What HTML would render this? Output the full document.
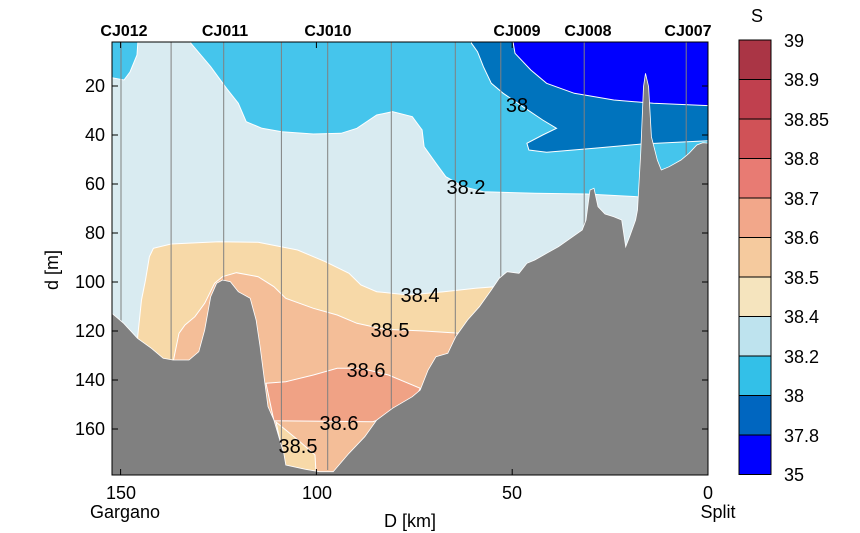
<!DOCTYPE html>
<html><head><meta charset="utf-8"><style>
html,body{margin:0;padding:0;background:#fff;}
svg{display:block;font-family:"Liberation Sans",sans-serif;}
</style></head><body>
<svg width="860" height="533" viewBox="0 0 860 533" xmlns="http://www.w3.org/2000/svg">
<defs><clipPath id="c"><rect x="112" y="42" width="596" height="433"/></clipPath></defs>
<g clip-path="url(#c)">
<rect x="112" y="42" width="596" height="433" fill="#D9EBF1"/>
<polygon points="108,40 138,40 137,55 130,72 124,80 108,77" fill="#45C5EC" stroke="#fff" stroke-width="1"/>
<polygon points="190,40 190.9,43.3 210.7,66.7 226.5,88.3 238.3,103.3 246.2,121.7 262,128.3 281.8,131.7 313.4,134 341.1,133.3 356.9,128.3 376.7,115 392.5,111.7 412.3,116.7 422.1,130 424.1,146.7 436,163.3 445.8,176.7 463.6,186.7 483.4,191.7 534.8,193.3 586.2,194 637.5,196.7 710,198 710,40" fill="#45C5EC" stroke="#fff" stroke-width="1"/>
<polygon points="471.5,40 471.5,43.3 477.5,51.7 483.4,66.7 491.3,83.3 503.2,93.3 522.9,106.7 542.7,120 556.5,128.3 542.7,135 526.9,143.3 528.9,150 546.6,152.3 594.1,148.3 641.5,144 710,140.7 710,40" fill="#0073BD" stroke="#fff" stroke-width="1"/>
<polygon points="513,40 513,41.7 515,53.3 530.8,70 546.6,83.3 574.3,93.3 613.8,100 653.4,103.3 710,105.7 710,40" fill="#0000FF" stroke="#fff" stroke-width="1"/>
<polygon points="137.5,338.3 141.5,300 145.5,280 149.4,256.7 153.4,248.3 171.1,244 218.6,241.7 258.1,242.3 297.6,250 325.3,261.7 349,273.3 360.9,285 376.7,291.7 408.3,295 443.9,291.7 475.5,288.3 495.3,286.7 500,300 470,340 300,470 140,360" fill="#F7D9A8" stroke="#fff" stroke-width="1"/>
<polygon points="173.1,362 179,333.3 185,325 194.9,316.7 204.7,303.3 214.6,283.3 222.5,276.7 236.4,272.7 258.1,276.7 273.9,286.7 285.8,298.3 313.4,308.3 337.2,315 356.9,323.3 384.6,329.3 424.1,331 459.7,333.3 470,340 330,480 260,480 240,362" fill="#F4BE98" stroke="#fff" stroke-width="1"/>
<polygon points="266,383.3 285.8,381.7 313.4,375 337.2,368.3 360.9,368.3 388.5,375 420.2,388.3 410,410 372.7,421.7 273.9,420.7" fill="#F0A285" stroke="#fff" stroke-width="1"/>
<polygon points="276,422 298,440 315,455 316,472 287,472 282,450" fill="#F7D9A8" stroke="#fff" stroke-width="1"/>
<g stroke="#808080" stroke-width="1">
<line x1="121" y1="42" x2="121" y2="475"/><line x1="171.1" y1="42" x2="171.1" y2="475"/>
<line x1="223.7" y1="42" x2="223.7" y2="475"/><line x1="281.4" y1="42" x2="281.4" y2="475"/>
<line x1="327.7" y1="42" x2="327.7" y2="470"/><line x1="391.3" y1="42" x2="391.3" y2="475"/>
<line x1="455.3" y1="42" x2="455.3" y2="475"/><line x1="500.8" y1="42" x2="500.8" y2="475"/>
<line x1="584.2" y1="42" x2="584.2" y2="475"/><line x1="686.2" y1="42" x2="686.2" y2="475"/>
</g>
<polygon fill="#808080" stroke="#fff" stroke-width="0.8" points="108,313.3 111.9,313.3 123.7,323.3 137.5,338.3 151.4,348.3 163.2,358.3 173,360 189,360 198.8,351.7 204.7,330 210.7,296.7 216.6,283.3 222.5,280 230.4,281.7 238.3,291.7 250.2,298.3 256.1,320 260.1,346.7 264,376.7 268,406.7 273.9,420 279.8,440 283.8,453.3 285.8,465 305.5,469.3 319.4,471.7 333.2,471.7 349,453.3 364.8,436.7 376.7,420 392.5,408.3 412.3,396.7 420.2,390 428.1,370 436,356.7 447.8,353.3 455.7,336.7 467.6,320 479.4,306.7 491.3,290 499.2,278.3 507.1,271.7 519,273.3 526.9,263.3 534.8,260 546.6,253.3 558.5,246.7 570.4,238.3 582.2,230 586,220 590,190 594,188.3 598,206.7 605,214 613.8,216.7 621.7,220 625.7,246.7 629.6,236.7 635.6,220 637.5,210 640.7,153.3 643.5,86.7 645.5,73.3 648.6,86.7 651.4,136.7 657.3,160 661.3,170 669.2,166.7 681,160 689,153.3 696.8,145 702.8,142.7 710,143.3 710,480 108,480"/>
</g>
<rect x="112" y="42" width="596" height="433" fill="none" stroke="#000" stroke-width="1"/>
<g stroke="#000" stroke-width="1">
<line x1="112" y1="86" x2="118" y2="86"/><line x1="112" y1="135" x2="118" y2="135"/><line x1="112" y1="184" x2="118" y2="184"/><line x1="112" y1="233" x2="118" y2="233"/><line x1="112" y1="282" x2="118" y2="282"/><line x1="112" y1="331" x2="118" y2="331"/><line x1="112" y1="380" x2="118" y2="380"/><line x1="112" y1="429" x2="118" y2="429"/>
<line x1="708" y1="86" x2="702" y2="86"/><line x1="708" y1="135" x2="702" y2="135"/><line x1="708" y1="184" x2="702" y2="184"/><line x1="708" y1="233" x2="702" y2="233"/><line x1="708" y1="282" x2="702" y2="282"/><line x1="708" y1="331" x2="702" y2="331"/><line x1="708" y1="380" x2="702" y2="380"/><line x1="708" y1="429" x2="702" y2="429"/>
<line x1="120.6" y1="475" x2="120.6" y2="469"/><line x1="316.4" y1="475" x2="316.4" y2="469"/><line x1="512.2" y1="475" x2="512.2" y2="469"/>
<line x1="120.6" y1="42" x2="120.6" y2="48"/><line x1="316.4" y1="42" x2="316.4" y2="48"/><line x1="512.2" y1="42" x2="512.2" y2="48"/>
</g>
<g font-size="18" fill="#000">
<g text-anchor="end">
<text x="105" y="92">20</text><text x="105" y="141">40</text><text x="105" y="190">60</text><text x="105" y="239">80</text><text x="105" y="288">100</text><text x="105" y="337">120</text><text x="105" y="386">140</text><text x="105" y="435">160</text>
</g>
<g text-anchor="middle">
<text x="121" y="499">150</text><text x="317" y="499">100</text><text x="512" y="499">50</text><text x="708" y="499">0</text>
<text x="125" y="518">Gargano</text><text x="718" y="518">Split</text>
<text x="410" y="527">D [km]</text>
</g>
<text transform="translate(58,270) rotate(-90)" text-anchor="middle">d [m]</text>
</g>
<g font-size="20" fill="#000" text-anchor="middle">
<text x="517" y="112">38</text>
<text x="466" y="194">38.2</text>
<text x="420" y="302">38.4</text>
<text x="390" y="337">38.5</text>
<text x="366" y="377">38.6</text>
<text x="339" y="430">38.6</text>
<text x="298" y="453">38.5</text>
</g>
<g font-size="16" font-weight="bold" text-anchor="middle">
<text x="124" y="36">CJ012</text><text x="225" y="36">CJ011</text><text x="328" y="36">CJ010</text>
<text x="517" y="36">CJ009</text><text x="588" y="36">CJ008</text><text x="688" y="36">CJ007</text>
</g>
<g stroke="#000" stroke-width="1">
<rect x="739" y="40" width="32" height="39.5" fill="#AA3545"/>
<rect x="739" y="79.5" width="32" height="39.5" fill="#C0404E"/>
<rect x="739" y="119" width="32" height="39.5" fill="#D05257"/>
<rect x="739" y="158.5" width="32" height="39.5" fill="#E87B73"/>
<rect x="739" y="198" width="32" height="39.5" fill="#F2A78A"/>
<rect x="739" y="237.5" width="32" height="39.5" fill="#F5CA9E"/>
<rect x="739" y="277" width="32" height="39.5" fill="#F5E4BE"/>
<rect x="739" y="316.5" width="32" height="39.5" fill="#BEE3EE"/>
<rect x="739" y="356" width="32" height="39.5" fill="#33C0E8"/>
<rect x="739" y="395.5" width="32" height="39.5" fill="#0066C0"/>
<rect x="739" y="435" width="32" height="39.5" fill="#0000FF"/>
</g>
<g font-size="18">
<text x="757" y="22" text-anchor="middle">S</text>
<text x="784" y="47">39</text><text x="784" y="86">38.9</text><text x="784" y="126">38.85</text><text x="784" y="165">38.8</text><text x="784" y="205">38.7</text><text x="784" y="244">38.6</text><text x="784" y="284">38.5</text><text x="784" y="323">38.4</text><text x="784" y="363">38.2</text><text x="784" y="402">38</text><text x="784" y="442">37.8</text><text x="784" y="481">35</text>
</g>
</svg>
</body></html>
